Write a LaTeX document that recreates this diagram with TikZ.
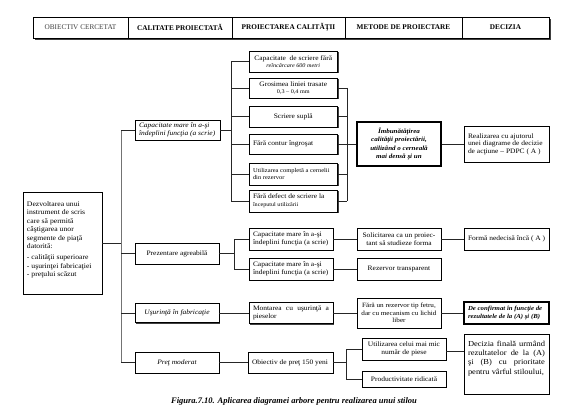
\documentclass[tikz,border=0pt]{standalone}
\usepackage{fontspec}
\usepackage{graphicx}
\setmainfont{Liberation Serif}
\usetikzlibrary{shadows}
\newcommand\stf{1.1}
% #1 name #2 cx #3 cy #4 w #5 h #6 node opts #7 align cmd #8 font #9 text
\newcommand\bx[9]{\pgfmathsetmacro\tw{(#4-8)/\stf}\node[box,minimum width=#4pt,minimum height=#5pt,#6] (#1) at (#2,#3) {\scalebox{\stf}[1]{\parbox{\tw pt}{#8#7#9}}};}
\newcommand\sm{\fontsize{5.6}{6.3}\selectfont}
\newcommand\nf{\fontsize{6.8}{7.6}\selectfont}
\begin{document}
\begin{tikzpicture}[x=1pt,y=-1pt,
  box/.style={draw=black,line width=0.8pt,fill=white,inner sep=0pt,
    drop shadow={shadow xshift=1.4pt,shadow yshift=-1.4pt,opacity=1,fill=black!75}},
  hcell/.style={draw=black,line width=0.8pt,fill=white,minimum height=21pt,inner sep=0pt,
    font=\fontsize{7.25}{8.5}\selectfont\bfseries,
    drop shadow={shadow xshift=1.6pt,shadow yshift=-1.6pt,opacity=1,fill=black!75}},
  conn/.style={draw=black!85,line width=0.8pt},
  trunk/.style={draw=black!55,line width=0.9pt}]
\useasboundingbox (0,0) rectangle (576,412);
% header
\node[hcell,minimum width=95pt,font=\fontsize{7.25}{8.5}\selectfont,text=black!75] (h1) at (80.5,27.5) {OBIECTIV CERCETAT};
\node[hcell,minimum width=104pt] (h2) at (180,27.5) {CALITATE PROIECTATĂ};
\node[hcell,minimum width=113pt] (h3) at (288.5,27.5) {PROIECTAREA CALITĂŢII};
\node[hcell,minimum width=117pt] (h4) at (403.5,27.5) {METODE DE PROIECTARE};
\node[hcell,minimum width=87pt] (h5) at (505.5,27.5) {DECIZIA};
% root
\bx{root}{62.5}{243}{79}{102}{}{\raggedright}{\fontsize{7}{8.4}\selectfont}{Dezvoltarea unui\\instrument de scris\\care să permită\\câştigarea unor\\segmente de piaţă\\datorită:\\[3pt]- calităţii superioare\\- uşurinţei fabricaţiei\\- preţului scăzut\\[6pt]}
% branches
\bx{b1}{177.5}{130}{85}{20}{}{\raggedright}{\nf\itshape}{Capacitate mare în a-şi\\îndeplini funcţia (a scrie)}
\bx{b2}{177}{253.5}{84}{21}{}{\centering}{\nf}{Prezentare agreabilă}
\bx{b3}{177}{313}{84}{19}{}{\centering}{\nf\itshape}{Uşurinţă în fabricaţie}
\bx{b4}{177}{362.5}{84}{21}{}{\centering}{\nf\itshape}{Preţ moderat}
% children of b1
\bx{c1}{293.25}{61.5}{88.5}{21}{}{\centering}{\nf}{Capacitate \ de scriere fără\\{\sm\itshape reîncărcare 600 metri}}
\bx{c2}{293.25}{88}{88.5}{20}{}{\centering}{\nf}{Grosimea liniei trasate\\{\sm 0,3 – 0,4 mm}}
\bx{c3}{293.25}{116.5}{88.5}{21}{}{\centering}{\nf}{Scriere suplă}
\bx{c4}{293.25}{144}{88.5}{20}{}{\raggedright}{\nf}{Fără contur îngroşat}
\bx{c5}{293.25}{174}{88.5}{22}{}{\raggedright}{\fontsize{5.9}{7}\selectfont}{Utilizarea completă a cernelii\\din rezervor}
\bx{c6}{293.25}{201}{88.5}{22}{}{\raggedright}{\nf}{Fără defect de scriere la\\{\sm începutul utilizării}}
\bx{imb}{399}{144}{84}{44}{line width=1.1pt}{\centering}{\fontsize{6.4}{8.4}\selectfont\bfseries\itshape}{Îmbunătăţirea\\calităţii proiectării,\\utilizând o cerneală\\mai densă şi un}
\bx{real}{506.5}{144}{85}{36}{}{\raggedright}{\nf}{Realizarea cu ajutorul\\unei diagrame de decizie\\de acţiune – PDPC ( A )}
% children of b2
\bx{d1}{291}{239}{84}{22}{}{\raggedright}{\nf}{Capacitate mare în a-şi\\îndeplini funcţia (a scrie)}
\bx{d2}{291}{269}{84}{22}{}{\raggedright}{\nf}{Capacitate mare în a-şi\\îndeplini funcţia (a scrie)}
\bx{sol}{399}{239}{84}{22}{}{\centering}{\nf}{Solicitarea ca un proiec-\\tant să studieze forma}
\bx{form}{506.5}{239}{85}{22}{}{\raggedright}{\nf}{Formă nedecisă încă ( A )}
\bx{rez}{399}{269}{84}{22}{}{\centering}{\nf}{Rezervor transparent}
% b3
\bx{mont}{291}{313}{84}{21}{}{}{\nf}{Montarea cu uşurinţă a\linebreak pieselor}
\bx{fara}{399}{313}{84}{30}{}{\centering}{\fontsize{6.5}{7.4}\selectfont}{Fără un rezervor tip fetru,\\dar cu mecanism cu lichid\\liber}
\bx{conf}{506.5}{313}{85}{22}{line width=1.1pt}{\raggedright}{\fontsize{6.2}{7.8}\selectfont\bfseries\itshape}{De confirmat în funcţie de\\rezultatele de la (A) şi (B)}
% b4
\bx{obj}{290.5}{362.5}{85}{21}{}{\raggedright}{\nf}{Obiectiv de preţ 150 yeni}
\bx{util}{404}{349}{84}{22}{}{\centering}{\nf}{Utilizarea celui mai mic\\număr de piese}
\bx{prod}{404}{379}{84}{16}{}{\centering}{\nf}{Productivitate ridicată}
\bx{dec}{506.5}{364}{85}{60}{}{}{\fontsize{7.7}{9.3}\selectfont}{Decizia finală urmând\linebreak rezultatelor de la (A)\linebreak şi (B) cu prioritate\linebreak pentru vârful stiloului,\\[4pt]}
% bus coordinates
\coordinate (tk) at (121,0);
\coordinate (L1) at (231,0);
\coordinate (R1) at (347,0);
\coordinate (L2) at (234,0);
\coordinate (R2) at (346,0);
% trunk
\draw[trunk] (b1.west -| tk) -- (b4.west -| tk);
\draw[conn] (root.east) -- (root.east -| tk);
\foreach \b in {b1,b2,b3,b4} \draw[conn] (\b.west -| tk) -- (\b.west);
% b1 bus
\draw[conn] (b1.east) -- (b1.east -| L1);
\draw[conn] (c1.west -| L1) -- (c6.west -| L1);
\foreach \c in {c1,c2,c3,c4,c5,c6} \draw[conn] (\c.west -| L1) -- (\c.west);
\draw[conn] (c2.east -| R1) -- (c6.east -| R1);
\foreach \c in {c2,c3,c4,c5,c6} \draw[conn] (\c.east) -- (\c.east -| R1);
\draw[conn] (imb.west -| R1) -- (imb.west);
\draw[conn] (imb.east) -- (real.west);
% b2 bus
\draw[conn] (b2.east) -- (b2.east -| L2);
\draw[conn] (d1.west -| L2) -- (d2.west -| L2);
\draw[conn] (d1.west -| L2) -- (d1.west);
\draw[conn] (d2.west -| L2) -- (d2.west);
\draw[conn] (d1.east) -- (sol.west);
\draw[conn] (sol.east) -- (form.west);
\draw[conn] (d2.east) -- (rez.west);
% b3
\draw[conn] (b3.east) -- (mont.west);
\draw[conn] (mont.east) -- (fara.west);
\draw[conn] (fara.east) -- (conf.west);
% b4
\draw[conn] (b4.east) -- (obj.west);
\draw[conn] (obj.east) -- (obj.east -| R2);
\draw[conn] (util.west -| R2) -- (prod.west -| R2);
\draw[conn] (util.west -| R2) -- (util.west);
\draw[conn] (prod.west -| R2) -- (prod.west);
\draw[conn] ([yshift=-2pt]util.east) -- ([yshift=-2pt]util.east -| dec.west);
% caption
\node[font=\fontsize{8.5}{10}\selectfont\bfseries\itshape] (cap) at (294,401) {Figura.7.10. Aplicarea diagramei arbore pentru realizarea unui stilou};
\end{tikzpicture}
\end{document}
